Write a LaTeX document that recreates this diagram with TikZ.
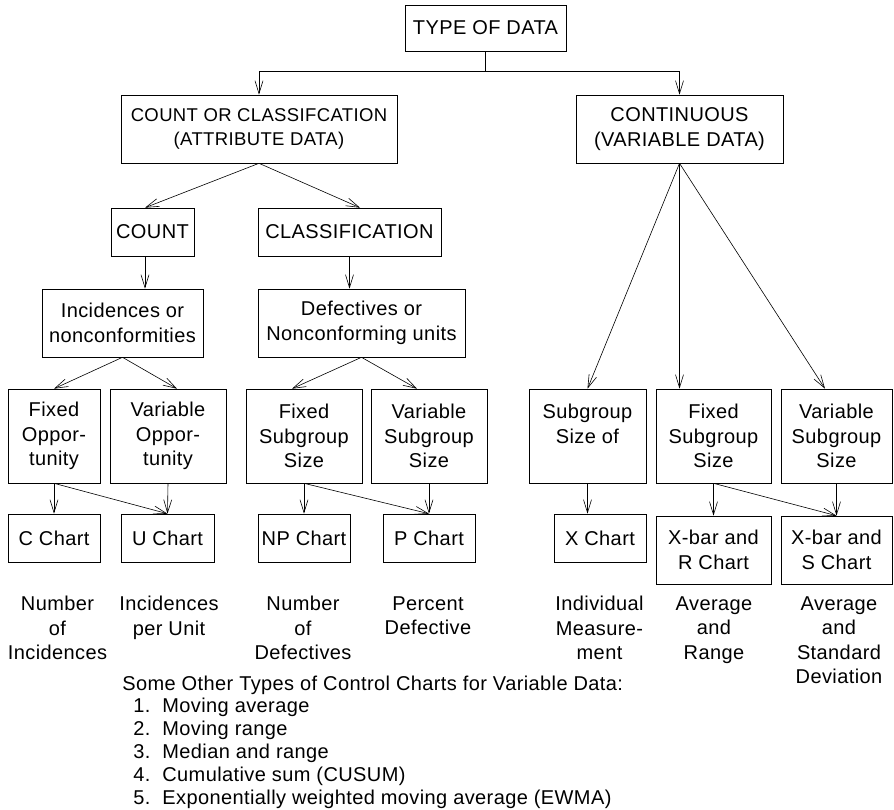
\documentclass[tikz,border=0pt]{standalone}
\usepackage{fontspec}
\setmainfont{Liberation Sans}[LetterSpace=2]
\usetikzlibrary{arrows.meta}

\begin{document}
\begin{tikzpicture}[x=1pt,y=-1pt,->,>={Straight Barb[length=13pt,width=8pt]},
        line width=0.6pt,
        every node/.style={font=\fontsize{20}{24.5}\selectfont},
        box/.style={draw,rectangle,align=center,inner sep=0pt},
        lbl/.style={align=center,anchor=north,inner sep=0pt}]

  \useasboundingbox (0,0) rectangle (894,809);

  % top levels
  \node[box,minimum width=161,minimum height=46] (type) at (485.5,28) {TYPE OF DATA};
  \node[box,minimum width=276,minimum height=68,font=\fontsize{18.5}{24.5}\selectfont] (attr) at (259,129) {COUNT OR CLASSIFCATION\\(ATTRIBUTE DATA)};
  \node[box,minimum width=207,minimum height=68] (cont) at (679.5,129) {CONTINUOUS\\(VARIABLE DATA)};
  \node[box,minimum width=83,minimum height=48] (count) at (152.5,232) {COUNT};
  \node[box,minimum width=183,minimum height=48] (classif) at (349.5,232) {CLASSIFICATION};
  \node[box,minimum width=161,minimum height=68] (incid) at (122.5,323) {Incidences or\\nonconformities};
  \node[box,minimum width=207,minimum height=68] (defect) at (361.5,323) {Defectives or\\Nonconforming units};

  % subgroup boxes
  \node[box,minimum width=92,minimum height=94] (fixopp) at (54,436) {Fixed\\Oppor-\\tunity};
  \node[box,minimum width=116,minimum height=94] (varopp) at (168,436) {Variable\\Oppor-\\tunity};
  \node[box,minimum width=116,minimum height=94] (fixsub) at (304,436) {Fixed\\Subgroup\\Size};
  \node[box,minimum width=116,minimum height=94] (varsub) at (429,436) {Variable\\Subgroup\\Size};
  \node[box,minimum width=117,minimum height=94] (subsz) at (587.5,436) {Subgroup\\Size of\\~};
  \node[box,minimum width=115,minimum height=94] (fixsubv) at (713.5,436) {Fixed\\Subgroup\\Size};
  \node[box,minimum width=111,minimum height=94] (varsubv) at (836.5,436) {Variable\\Subgroup\\Size};

  % charts
  \node[box,minimum width=92,minimum height=48] (cchart) at (54,538) {C Chart};
  \node[box,minimum width=93,minimum height=48] (uchart) at (167.5,538) {U Chart};
  \node[box,minimum width=92,minimum height=48] (npchart) at (304,538) {NP Chart};
  \node[box,minimum width=92,minimum height=48] (pchart) at (429,538) {P Chart};
  \node[box,minimum width=92,minimum height=48] (xchart) at (600,538) {X Chart};
  \node[box,minimum width=115,minimum height=68] (xrchart) at (713.5,550) {X-bar and\\R Chart};
  \node[box,minimum width=111,minimum height=68] (xschart) at (836.5,550) {X-bar and\\S Chart};

  % what each chart shows
  \node[lbl] (lc) at (57.5,596) {Number\\of\\Incidences};
  \node[lbl] (lu) at (169,596) {Incidences\\per Unit};
  \node[lbl] (lnp) at (303,596) {Number\\of\\Defectives};
  \node[lbl] (lp) at (428,596) {Percent\\Defective};
  \node[lbl] (lx) at (599.5,596) {Individual\\Measure-\\ment};
  \node[lbl] (lxr) at (714,596) {Average\\and\\Range};
  \node[lbl] (lxs) at (839,596) {Average\\and\\Standard\\Deviation};

  % other charts
  \node[anchor=west,inner sep=0pt] (other) at (122,685) {Some Other Types of Control Charts for Variable Data:};
  \foreach \i/\txt in {1/Moving average,2/Moving range,3/Median and range,
                       4/Cumulative sum (CUSUM),5/Exponentially weighted moving average (EWMA)}
    \node[anchor=west,inner sep=0pt] (item\i) at (133,{684+23*\i}) {\i.\hspace{0.6em}\txt};

  \draw (type.south) -- ++(0,20) coordinate (split) -| (attr.north);
  \draw (split) -| (cont.north);

  \path (attr.south) edge ([xshift=-7.5pt]count.north)
        (attr.south) edge ([xshift=10.5pt]classif.north)
        ([xshift=-7.5pt]count.south) edge ([xshift=-7.5pt]count.south |- incid.north)
        (classif.south) edge (classif.south |- defect.north)
        (incid.south) edge (fixopp.north)
        (incid.south) edge ([xshift=9pt]varopp.north)
        (defect.south) edge ([xshift=-12pt]fixsub.north)
        (defect.south) edge ([xshift=-12pt]varsub.north)
        (cont.south) edge (subsz.north)
        (cont.south) edge (cont.south |- fixsubv.north)
        (cont.south) edge ([xshift=-11.5pt]varsubv.north);

  \path (fixopp.south) edge (cchart.north)
        (fixopp.south) edge (uchart.north)
        (varopp.south) edge (uchart.north)
        (fixsub.south) edge (npchart.north)
        (fixsub.south) edge (pchart.north)
        (varsub.south) edge (pchart.north)
        (subsz.south) edge (subsz.south |- xchart.north)
        (fixsubv.south) edge (xrchart.north)
        (fixsubv.south) edge (xschart.north)
        (varsubv.south) edge (xschart.north);

\end{tikzpicture}
\end{document}
